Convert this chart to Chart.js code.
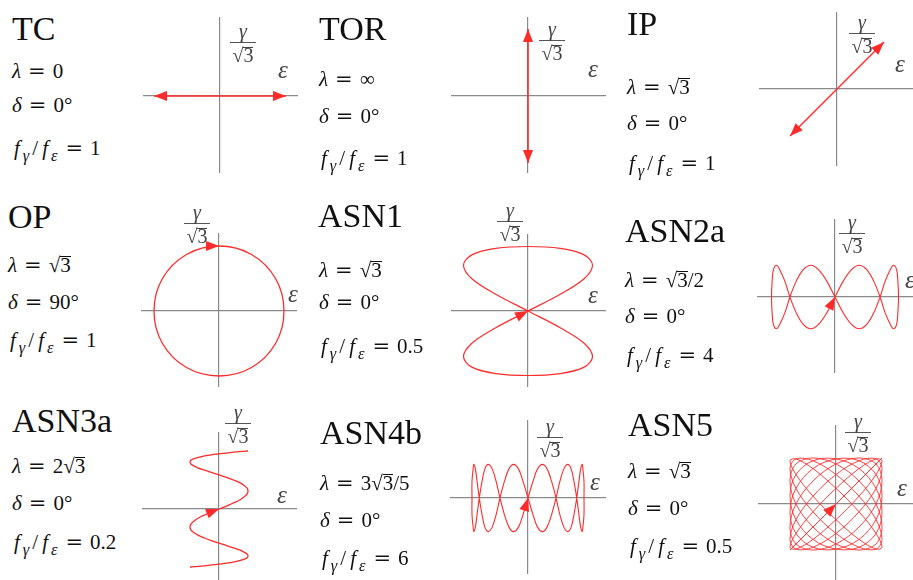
<!DOCTYPE html>
<html>
<head>
<meta charset="utf-8">
<script src="https://cdn.jsdelivr.net/npm/chart.js@4.4.1/dist/chart.umd.min.js"></script>
<style>
html, body { margin: 0; padding: 0; background: #fff; }
#stage { position: relative; width: 913px; height: 580px; overflow: hidden; }
#stage canvas { position: absolute; }
.tx { position: absolute; white-space: nowrap; font-family: "Liberation Serif", "Times New Roman", serif; color: #111; }
.title { font-size: 34px; }
.par { font-size: 21px; }
.par sub { font-size: 0.78em; vertical-align: -0.32em; line-height: 0; font-style: italic; padding-right: 1px; }
.mf { font-style: italic; padding: 0 3px 0 2px; }
.sl { margin: 0 2px; }
.eq { font-family: "DejaVu Serif", serif; margin: 0 7px; }
.ov { display: inline-block; line-height: 0.78em; border-top: 1px solid #111; }
.frac { position: absolute; font-family: "Liberation Serif", serif; color: #444; font-size: 20px;
        line-height: 1; text-align: center; transform: translateX(-50%); min-width: 26px; }
.frac .num { display: block; font-style: italic; padding-bottom: 1px; border-bottom: 1px solid #555; }
.frac .den { display: block; padding-top: 2px; }
.frac .ov { border-color: #444; }
.epsl { font-style: italic; color: #444; font-size: 25px; }
</style>
</head>
<body>
<div id="stage"></div>
<script>
// ---- strain paths (eps = x, gam = gamma/sqrt3) ----
const tcEps = [-1, 1];
const tcGam = [0, 0];

const torEps = [0, 0];
const torGam = [-1, 1];

const ipEps = [-1, 1];
const ipGam = [-1, 1];

// one clockwise turn starting at the top
const opEps = [0, 0.5, 0.87, 1, 0.87, 0.5, 0, -0.5, -0.87, -1, -0.87, -0.5];
const opGam = [1, 0.87, 0.5, 0, -0.5, -0.87, -1, -0.87, -0.5, 0, 0.5, 0.87];

const asn1Eps = [0, 0.5, 0.87, 1, 0.87, 0.5, 0, -0.5, -0.87, -1, -0.87, -0.5,
                 0, 0.5, 0.87, 1, 0.87, 0.5, 0, -0.5, -0.87, -1, -0.87, -0.5, 0];
const asn1Gam = [0, 0.26, 0.5, 0.71, 0.87, 0.97, 1, 0.97, 0.87, 0.71, 0.5, 0.26,
                 0, -0.26, -0.5, -0.71, -0.87, -0.97, -1, -0.97, -0.87, -0.71, -0.5, -0.26, 0];

const asn2aEps = [0, 0.13, 0.26, 0.38, 0.5, 0.61, 0.71, 0.79, 0.87, 0.92, 0.97, 0.99,
                  1, 0.99, 0.97, 0.92, 0.87, 0.79, 0.71, 0.61, 0.5, 0.38, 0.26, 0.13,
                  0, -0.13, -0.26, -0.38, -0.5, -0.61, -0.71, -0.79, -0.87, -0.92, -0.97, -0.99,
                  -1, -0.99, -0.97, -0.92, -0.87, -0.79, -0.71, -0.61, -0.5, -0.38, -0.26, -0.13, 0];
const asn2aGam = [0, 0.25, 0.43, 0.5, 0.43, 0.25, 0, -0.25, -0.43, -0.5, -0.43, -0.25,
                  0, 0.25, 0.43, 0.5, 0.43, 0.25, 0, -0.25, -0.43, -0.5, -0.43, -0.25,
                  0, 0.25, 0.43, 0.5, 0.43, 0.25, 0, -0.25, -0.43, -0.5, -0.43, -0.25,
                  0, 0.25, 0.43, 0.5, 0.43, 0.25, 0, -0.25, -0.43, -0.5, -0.43, -0.25, 0];

const asn3aEps = [-1, -0.97, -0.87, -0.71, -0.5, -0.26, 0, 0.26, 0.5, 0.71, 0.87, 0.97,
                  1, 0.97, 0.87, 0.71, 0.5, 0.26, 0, -0.26, -0.5, -0.71, -0.87, -0.97,
                  -1, -0.97, -0.87, -0.71, -0.5, -0.26, 0, 0.26, 0.5, 0.71, 0.87, 0.97,
                  1, 0.97, 0.87, 0.71, 0.5, 0.26, 0, -0.26, -0.5, -0.71, -0.87, -0.97,
                  -1, -0.97, -0.87, -0.71, -0.5, -0.26, 0, 0.26, 0.5, 0.71, 0.87, 0.97, 1];
const asn3aGam = [-2, -2, -1.99, -1.98, -1.96, -1.93, -1.9, -1.87, -1.83, -1.78, -1.73, -1.68,
                  -1.62, -1.55, -1.49, -1.41, -1.34, -1.26, -1.18, -1.09, -1, -0.91, -0.81, -0.72,
                  -0.62, -0.52, -0.42, -0.31, -0.21, -0.1, 0, 0.1, 0.21, 0.31, 0.42, 0.52,
                  0.62, 0.72, 0.81, 0.91, 1, 1.09, 1.18, 1.26, 1.34, 1.41, 1.49, 1.55,
                  1.62, 1.68, 1.73, 1.78, 1.83, 1.87, 1.9, 1.93, 1.96, 1.98, 1.99, 2, 2];

const asn4bEps = [0, 0.09, 0.17, 0.26, 0.34, 0.42, 0.5, 0.57, 0.64, 0.71, 0.77, 0.82,
                  0.87, 0.91, 0.94, 0.97, 0.98, 1, 1, 1, 0.98, 0.97, 0.94, 0.91,
                  0.87, 0.82, 0.77, 0.71, 0.64, 0.57, 0.5, 0.42, 0.34, 0.26, 0.17, 0.09,
                  0, -0.09, -0.17, -0.26, -0.34, -0.42, -0.5, -0.57, -0.64, -0.71, -0.77, -0.82,
                  -0.87, -0.91, -0.94, -0.97, -0.98, -1, -1, -1, -0.98, -0.97, -0.94, -0.91,
                  -0.87, -0.82, -0.77, -0.71, -0.64, -0.57, -0.5, -0.42, -0.34, -0.26, -0.17, -0.09, 0];
const asn4bGam = [0, 0.3, 0.52, 0.6, 0.52, 0.3, 0, -0.3, -0.52, -0.6, -0.52, -0.3,
                  0, 0.3, 0.52, 0.6, 0.52, 0.3, 0, -0.3, -0.52, -0.6, -0.52, -0.3,
                  0, 0.3, 0.52, 0.6, 0.52, 0.3, 0, -0.3, -0.52, -0.6, -0.52, -0.3,
                  0, 0.3, 0.52, 0.6, 0.52, 0.3, 0, -0.3, -0.52, -0.6, -0.52, -0.3,
                  0, 0.3, 0.52, 0.6, 0.52, 0.3, 0, -0.3, -0.52, -0.6, -0.52, -0.3,
                  0, 0.3, 0.52, 0.6, 0.52, 0.3, 0, -0.3, -0.52, -0.6, -0.52, -0.3, 0];

// ASN5: the path drifts through a family of loops that fill the square
const asn5Eps = [0, 0.5, 0.87, 1, 0.87, 0.5, 0, -0.5, -0.87, -1, -0.87, -0.5];
const asn5Gam = [
  [0, 0.5, 0.87, 1, 0.87, 0.5, 0, -0.5, -0.87, -1, -0.87, -0.5],
  [0.34, 0.77, 0.98, 0.94, 0.64, 0.17, -0.34, -0.77, -0.98, -0.94, -0.64, -0.17],
  [0.64, 0.94, 0.98, 0.77, 0.34, -0.17, -0.64, -0.94, -0.98, -0.77, -0.34, 0.17],
  [0.87, 1, 0.87, 0.5, 0, -0.5, -0.87, -1, -0.87, -0.5, 0, 0.5],
  [0.98, 0.94, 0.64, 0.17, -0.34, -0.77, -0.98, -0.94, -0.64, -0.17, 0.34, 0.77],
  [0.98, 0.77, 0.34, -0.17, -0.64, -0.94, -0.98, -0.77, -0.34, 0.17, 0.64, 0.94],
  [0.87, 0.5, 0, -0.5, -0.87, -1, -0.87, -0.5, 0, 0.5, 0.87, 1],
  [0.64, 0.17, -0.34, -0.77, -0.98, -0.94, -0.64, -0.17, 0.34, 0.77, 0.98, 0.94],
  [0.34, -0.17, -0.64, -0.94, -0.98, -0.77, -0.34, 0.17, 0.64, 0.94, 0.98, 0.77]
];

const RED = '#ff2b2b';
const AXIS = '#8a8a8a';

function path(eps, gam) {
  return eps.map((e, i) => ({ x: e, y: gam[i] }));
}
// closed loop: wrap one point on each side so the spline closes smoothly
// (the two wrapped segments are drawn transparent)
function ring(eps, gam) {
  const p = path(eps, gam);
  return [p[p.length - 1], ...p, p[0], p[1]];
}

const SQ3 = '√<span class="ov">3</span>';
const EQ = '<span class="eq">=</span>';
const FF = '<span class="mf">f</span><sub>γ</sub><span class="sl">/</span><span class="mf">f</span><sub>ε</sub>';

const panels = [
  { title: 'TC', lines: ['<i>λ</i>' + EQ + '0', '<i>δ</i>' + EQ + '0°', FF + EQ + '1'],
    tpos: [12, 40], px: 12, pb: [78, 112, 155], frac: [243, 42], epsPos: [278, 78],
    box: [143, 298, 17, 173], c: [220, 96], u: 66, tension: 0, lw: 1.6,
    series: [{ data: path(tcEps, tcGam), arrows: [[0, -1], [1, 1]] }] },
  { title: 'TOR', lines: ['<i>λ</i>' + EQ + '∞', '<i>δ</i>' + EQ + '0°', FF + EQ + '1'],
    tpos: [319, 40], px: 319, pb: [86, 123, 165], frac: [552, 40], epsPos: [588, 77],
    box: [451, 606, 17, 173], c: [528, 96], u: 67, tension: 0, lw: 1.6,
    series: [{ data: path(torEps, torGam), arrows: [[0, -1], [1, 1]] }] },
  { title: 'IP', lines: ['<i>λ</i>' + EQ + SQ3, '<i>δ</i>' + EQ + '0°', FF + EQ + '1'],
    tpos: [627, 35], px: 627, pb: [94, 130, 170], frac: [862, 33], epsPos: [895, 72],
    box: [759, 913, 12, 166], c: [837, 89], u: 47, tension: 0, lw: 1.4,
    series: [{ data: path(ipEps, ipGam), arrows: [[0, -1], [1, 1]] }] },
  { title: 'OP', lines: ['<i>λ</i>' + EQ + SQ3, '<i>δ</i>' + EQ + '90°', FF + EQ + '1'],
    tpos: [8, 228], px: 8, pb: [272, 309, 347], frac: [197, 223], epsPos: [288, 302],
    box: [141, 297, 233, 387], c: [219, 311], u: 65, tension: 0.35, lw: 1.3,
    series: [{ data: ring(opEps, opGam), ring: true, arrows: [[1, 1]] }] },
  { title: 'ASN1', lines: ['<i>λ</i>' + EQ + SQ3, '<i>δ</i>' + EQ + '0°', FF + EQ + '0.5'],
    tpos: [318, 227], px: 319, pb: [277, 309, 353], frac: [510, 221], epsPos: [588, 303],
    box: [451, 606, 234, 387], c: [528, 311], u: 64.5, tension: 0.35, lw: 1.2,
    series: [{ data: path(asn1Eps, asn1Gam), arrows: [[0, 1]] }] },
  { title: 'ASN2a', lines: ['<i>λ</i>' + EQ + SQ3 + '/2', '<i>δ</i>' + EQ + '0°', FF + EQ + '4'],
    tpos: [625, 242], px: 625, pb: [287, 323, 362], frac: [852, 233], epsPos: [905, 288],
    box: [757, 913, 219, 373], c: [835, 297], u: 63.5, tension: 0.35, lw: 1.1,
    series: [{ data: path(asn2aEps, asn2aGam), arrows: [[0, 1]] }] },
  { title: 'ASN3a', lines: ['<i>λ</i>' + EQ + '2' + SQ3, '<i>δ</i>' + EQ + '0°', FF + EQ + '0.2'],
    tpos: [12, 432], px: 12, pb: [473, 510, 549], frac: [238, 423], epsPos: [277, 503],
    box: [142, 297, 432, 580], c: [219, 509], u: 29, tension: 0.35, lw: 1.3,
    series: [{ data: path(asn3aEps, asn3aGam), arrows: [[30, 1]] }] },
  { title: 'ASN4b', lines: ['<i>λ</i>' + EQ + '3' + SQ3 + '/5', '<i>δ</i>' + EQ + '0°', FF + EQ + '6'],
    tpos: [320, 444], px: 320, pb: [490, 527, 565], frac: [550, 437], epsPos: [590, 490],
    box: [450, 606, 420, 574], c: [528, 498], u: 56, tension: 0.35, lw: 1.1,
    series: [{ data: path(asn4bEps, asn4bGam), arrows: [[0, 1]] }] },
  { title: 'ASN5', lines: ['<i>λ</i>' + EQ + SQ3, '<i>δ</i>' + EQ + '0°', FF + EQ + '0.5'],
    tpos: [628, 436], px: 628, pb: [478, 515, 553], frac: [858, 432], epsPos: [897, 496],
    box: [758, 913, 425, 580], c: [836, 504], u: 46, tension: 0.35, lw: 0.9,
    series: asn5Gam.map((g, j) => ({ data: ring(asn5Eps, g), ring: true, arrows: j === 0 ? [[1, 1]] : [] })) }
];

// arrow heads at chosen points, pointing along the path
const arrowHeads = {
  id: 'arrowHeads',
  afterDatasetsDraw(chart) {
    const ctx = chart.ctx;
    chart.data.datasets.forEach((ds, i) => {
      if (!ds.arrows || !ds.arrows.length) return;
      const pts = chart.getDatasetMeta(i).data;
      ds.arrows.forEach(([k, sign]) => {
        const p = pts[k];
        let dx, dy;
        if (ds.tension > 0 && p.cp1x !== undefined) {
          dx = p.cp2x - p.cp1x; dy = p.cp2y - p.cp1y;
        } else {
          const q = pts[k + 1] || p, r = pts[k - 1] || p;
          dx = q.x - r.x; dy = q.y - r.y;
        }
        const len = Math.hypot(dx, dy) || 1;
        const ux = sign * dx / len, uy = sign * dy / len;
        const L = 13, W = 5;
        const bx = p.x - ux * L, by = p.y - uy * L;
        ctx.save();
        ctx.fillStyle = RED;
        ctx.beginPath();
        ctx.moveTo(p.x, p.y);
        ctx.lineTo(bx - uy * W, by + ux * W);
        ctx.lineTo(bx + uy * W, by - ux * W);
        ctx.closePath();
        ctx.fill();
        ctx.restore();
      });
    });
  }
};

const stage = document.getElementById('stage');

function axisOpts(min, max) {
  return {
    type: 'linear', min: min, max: max,
    ticks: { display: false },
    border: { display: false },
    grid: { drawTicks: false, color: AXIS, lineWidth: 1.2 },
    afterBuildTicks: s => { s.ticks = [{ value: 0 }]; }
  };
}

function addText(cls, html, left, baseline, size) {
  const d = document.createElement('div');
  d.className = 'tx ' + cls;
  d.innerHTML = html;
  d.style.left = left + 'px';
  d.style.top = (baseline - 0.891 * size) + 'px';
  stage.appendChild(d);
}

panels.forEach(p => {
  const [l, r, t, b] = p.box;
  const [cx, cy] = p.c;
  const cv = document.createElement('canvas');
  cv.width = r - l; cv.height = b - t;
  cv.style.left = l + 'px'; cv.style.top = t + 'px';
  stage.appendChild(cv);

  new Chart(cv, {
    type: 'scatter',
    data: {
      datasets: p.series.map(s => {
        const n = s.data.length;
        return {
          data: s.data,
          arrows: s.arrows,
          showLine: true,
          borderColor: RED,
          backgroundColor: RED,
          borderWidth: p.lw,
          pointRadius: 0,
          tension: p.tension,
          clip: false,
          segment: {
            borderColor: c => (s.ring && (c.p0DataIndex === 0 || c.p1DataIndex === n - 1)) ? 'rgba(0,0,0,0)' : undefined
          }
        };
      })
    },
    options: {
      responsive: false,
      animation: false,
      events: [],
      layout: { padding: 0 },
      plugins: { legend: { display: false }, tooltip: { enabled: false } },
      scales: {
        x: axisOpts((l - cx) / p.u, (r - cx) / p.u),
        y: axisOpts((cy - b) / p.u, (cy - t) / p.u)
      }
    },
    plugins: [arrowHeads]
  });

  addText('title', p.title, p.tpos[0], p.tpos[1], 34);
  p.lines.forEach((ln, i) => addText('par', ln, p.px, p.pb[i], 21));
  addText('epsl', 'ε', p.epsPos[0], p.epsPos[1], 25);

  const f = document.createElement('div');
  f.className = 'frac';
  f.innerHTML = '<span class="num">γ</span><span class="den">' + SQ3 + '</span>';
  f.style.left = p.frac[0] + 'px';
  f.style.top = (p.frac[1] - 21) + 'px';
  stage.appendChild(f);
});
</script>
</body>
</html>
